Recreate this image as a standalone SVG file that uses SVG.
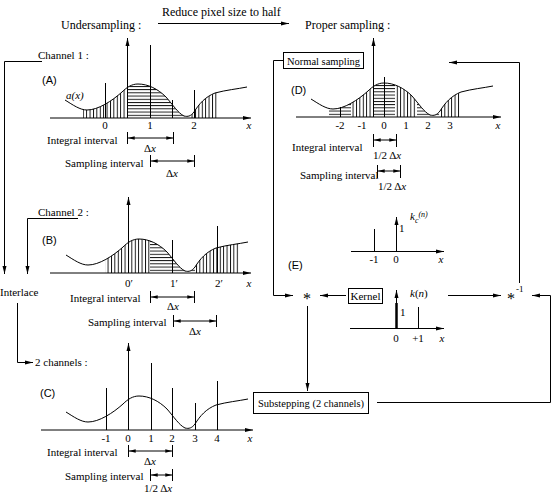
<svg xmlns="http://www.w3.org/2000/svg" width="553" height="495" viewBox="0 0 553 495">
<style>
.t{font-family:"Liberation Serif",serif;font-size:11px;fill:#000}
.big{font-size:12px}
.s{font-family:"Liberation Sans",sans-serif;font-size:11px;fill:#000}
.i{font-style:italic}
.m{text-anchor:middle}
.ln{stroke:#000;stroke-width:1;fill:none}
.ar{marker-end:url(#ah)}
.br{stroke:#000;stroke-width:1;fill:none;marker-start:url(#sh);marker-end:url(#sh)}
.box{fill:#fff;stroke:#000;stroke-width:1}
.cv{fill:none;stroke:#000;stroke-width:1}
</style>
<defs>
<marker id="ah" viewBox="0 0 10 6" refX="10" refY="3" markerWidth="8" markerHeight="5" orient="auto-start-reverse" markerUnits="userSpaceOnUse"><path d="M0,0.5 L10,3 L0,5.5 z" fill="#000"/></marker>
<marker id="sh" viewBox="0 0 10 6" refX="10" refY="3" markerWidth="7" markerHeight="4" orient="auto-start-reverse" markerUnits="userSpaceOnUse"><path d="M0,0.5 L10,3 L0,5.5 z" fill="#000"/></marker>
<path id="curve" d="M-62,-18 C-54,-13 -47,-8 -40,-8 C-29,-8 -15,-17 -5,-26 C0,-31 5,-34 11,-34 C21,-34 31,-29 39,-21 C46,-13 51,-5 57,-2 C61,-1 64,-2 67,-6 C72,-14 78,-21 88,-25 C99,-28 110,-29 120,-31"/>
<clipPath id="under" clipPathUnits="userSpaceOnUse"><path d="M-62,-18 C-54,-13 -47,-8 -40,-8 C-29,-8 -15,-17 -5,-26 C0,-31 5,-34 11,-34 C21,-34 31,-29 39,-21 C46,-13 51,-5 57,-2 C61,-1 64,-2 67,-6 C72,-14 78,-21 88,-25 C99,-28 110,-29 120,-31 L120,0 L-62,0 Z"/></clipPath>
<pattern id="vh" patternUnits="userSpaceOnUse" width="3.4" height="4"><rect x="0" y="0" width="0.9" height="4" fill="#000"/></pattern>
<pattern id="hh" patternUnits="userSpaceOnUse" width="4" height="3.2"><rect x="0" y="0" width="4" height="0.9" fill="#000"/></pattern>
</defs>

<g id="title">
<text class="t big" x="162" y="16">Reduce pixel size to half</text>
<text class="t big" x="61" y="29">Undersampling :</text>
<text class="t big" x="305" y="29">Proper sampling :</text>
</g>

<g id="panelA">
<text class="t" x="38" y="59">Channel 1 :</text>
<text class="s" x="42" y="84">(A)</text>
<text class="t i" x="66" y="99">a(x)</text>
<g transform="translate(127,118)">
<g clip-path="url(#under)">
<rect x="-44" y="-40" width="44" height="40" fill="url(#vh)"/>
<rect x="0" y="-40" width="45" height="40" fill="url(#hh)"/>
<rect x="45" y="-40" width="18" height="40" fill="url(#hh)"/>
<rect x="63" y="-40" width="28" height="40" fill="url(#vh)"/>
</g>
<use href="#curve" class="cv"/>
</g>
<line class="ln ar" x1="50" y1="118" x2="251" y2="118"/>
<line class="ln ar" x1="127.5" y1="118" x2="127.5" y2="38"/>
<line class="ln" x1="105.5" y1="118" x2="105.5" y2="83"/>
<line class="ln" x1="150.5" y1="118" x2="150.5" y2="45"/>
<line class="ln" x1="194.5" y1="118" x2="194.5" y2="90"/>
<line class="ln" x1="172.5" y1="118" x2="172.5" y2="100"/>
<text class="t m" x="105" y="129">0</text>
<text class="t m" x="150" y="129">1</text>
<text class="t m" x="194" y="129">2</text>
<text class="t i m" x="249" y="129">x</text>
<text class="t" x="47" y="144">Integral interval</text>
<line class="ln" x1="127.5" y1="132" x2="127.5" y2="144"/>
<line class="ln" x1="173.5" y1="132" x2="173.5" y2="144"/>
<line class="br" x1="128" y1="138" x2="173" y2="138"/>
<text class="t m" x="150" y="152">Δ<tspan class="i">x</tspan></text>
<text class="t" x="65" y="167">Sampling interval</text>
<line class="ln" x1="150.5" y1="155" x2="150.5" y2="167"/>
<line class="ln" x1="194.5" y1="155" x2="194.5" y2="167"/>
<line class="br" x1="151" y1="161" x2="194" y2="161"/>
<text class="t m" x="172" y="177">Δ<tspan class="i">x</tspan></text>
</g>

<g id="panelB">
<text class="t" x="38" y="216">Channel 2 :</text>
<text class="s" x="42" y="244">(B)</text>
<g transform="translate(128,273)">
<g clip-path="url(#under)">
<rect x="-23" y="-40" width="45" height="40" fill="url(#vh)"/>
<rect x="22" y="-40" width="45" height="40" fill="url(#hh)"/>
<rect x="67" y="-40" width="45" height="40" fill="url(#vh)"/>
</g>
<use href="#curve" class="cv"/>
</g>
<line class="ln ar" x1="50" y1="273" x2="251" y2="273"/>
<line class="ln ar" x1="128.5" y1="273" x2="128.5" y2="197"/>
<line class="ln" x1="172.5" y1="273" x2="172.5" y2="240"/>
<line class="ln" x1="217.5" y1="273" x2="217.5" y2="226"/>
<text class="t m" x="129" y="287">0′</text>
<text class="t m" x="174" y="287">1′</text>
<text class="t m" x="219" y="287">2′</text>
<text class="t i m" x="249" y="287">x</text>
<text class="t" x="70" y="302">Integral interval</text>
<line class="ln" x1="150.5" y1="291" x2="150.5" y2="303"/>
<line class="ln" x1="194.5" y1="291" x2="194.5" y2="303"/>
<line class="br" x1="151" y1="297" x2="194" y2="297"/>
<text class="t m" x="173" y="310">Δ<tspan class="i">x</tspan></text>
<text class="t" x="88" y="326">Sampling interval</text>
<line class="ln" x1="173.5" y1="315" x2="173.5" y2="327"/>
<line class="ln" x1="216.5" y1="315" x2="216.5" y2="327"/>
<line class="br" x1="174" y1="321" x2="216" y2="321"/>
<text class="t m" x="195" y="335">Δ<tspan class="i">x</tspan></text>
</g>

<g id="interlace">
<text class="t" x="0" y="296">Interlace</text>
<text class="t" x="35" y="366">2  channels :</text>
</g>

<g id="panelC">
<text class="s" x="40" y="397">(C)</text>
<g transform="translate(128,430)">
<use href="#curve" class="cv"/>
</g>
<line class="ln ar" x1="41" y1="430" x2="253" y2="430"/>
<line class="ln ar" x1="128.5" y1="430" x2="128.5" y2="343"/>
<line class="ln" x1="106.5" y1="430" x2="106.5" y2="388"/>
<line class="ln" x1="151.5" y1="430" x2="151.5" y2="363"/>
<line class="ln" x1="172.5" y1="430" x2="172.5" y2="388"/>
<line class="ln" x1="195.5" y1="430" x2="195.5" y2="403"/>
<line class="ln" x1="217.5" y1="430" x2="217.5" y2="381"/>
<text class="t m" x="106" y="442">-1</text>
<text class="t m" x="128" y="442">0</text>
<text class="t m" x="151" y="442">1</text>
<text class="t m" x="172" y="442">2</text>
<text class="t m" x="195" y="442">3</text>
<text class="t m" x="217" y="442">4</text>
<text class="t i m" x="250" y="442">x</text>
<text class="t" x="47" y="456">Integral interval</text>
<line class="ln" x1="128.5" y1="445" x2="128.5" y2="457"/>
<line class="ln" x1="172.5" y1="445" x2="172.5" y2="457"/>
<line class="br" x1="129" y1="451" x2="172" y2="451"/>
<text class="t m" x="150" y="465">Δ<tspan class="i">x</tspan></text>
<text class="t" x="65" y="480">Sampling interval</text>
<line class="ln" x1="150.5" y1="469" x2="150.5" y2="481"/>
<line class="ln" x1="172.5" y1="469" x2="172.5" y2="481"/>
<line class="br" x1="151" y1="475" x2="172" y2="475"/>
<text class="t" x="144" y="492">1/2 Δ<tspan class="i">x</tspan></text>
</g>

<g id="panelD">
<text class="s" x="291" y="94">(D)</text>
<g transform="translate(373,117)">
<g clip-path="url(#under)">
<rect x="-44" y="-40" width="22" height="40" fill="url(#hh)"/>
<rect x="-22" y="-40" width="22" height="40" fill="url(#vh)"/>
<rect x="0" y="-40" width="22" height="40" fill="url(#hh)"/>
<rect x="22" y="-40" width="22" height="40" fill="url(#vh)"/>
<rect x="44" y="-40" width="22" height="40" fill="url(#hh)"/>
<rect x="66" y="-40" width="22" height="40" fill="url(#vh)"/>
</g>
<use href="#curve" class="cv"/>
</g>
<line class="ln ar" x1="296" y1="117" x2="501" y2="117"/>
<line class="ln ar" x1="373.5" y1="117" x2="373.5" y2="38"/>
<line class="ln" x1="340.5" y1="117" x2="340.5" y2="107"/>
<line class="ln" x1="384.5" y1="117" x2="384.5" y2="77"/>
<text class="t m" x="340" y="129">-2</text>
<text class="t m" x="362" y="129">-1</text>
<text class="t m" x="384" y="129">0</text>
<text class="t m" x="406" y="129">1</text>
<text class="t m" x="428" y="129">2</text>
<text class="t m" x="450" y="129">3</text>
<text class="t i m" x="498" y="129">x</text>
<text class="t" x="292" y="151">Integral interval</text>
<line class="ln" x1="373.5" y1="134" x2="373.5" y2="147"/>
<line class="ln" x1="396.5" y1="134" x2="396.5" y2="147"/>
<line class="br" x1="374" y1="140" x2="396" y2="140"/>
<text class="t" x="373" y="159">1/2 Δ<tspan class="i">x</tspan></text>
<text class="t" x="300" y="179">Sampling interval</text>
<line class="ln" x1="377.5" y1="165" x2="377.5" y2="178"/>
<line class="ln" x1="400.5" y1="165" x2="400.5" y2="178"/>
<line class="br" x1="378" y1="171" x2="400" y2="171"/>
<text class="t" x="378" y="190">1/2 Δ<tspan class="i">x</tspan></text>
</g>

<g id="normal-sampling">
<rect class="box" x="283.5" y="52.5" width="80" height="16"/>
<text class="t m" x="323.5" y="64.5" style="font-size:10.5px">Normal sampling</text>
</g>

<g id="panelE">
<text class="s" x="288" y="269">(E)</text>
<line class="ln ar" x1="351" y1="251.5" x2="444" y2="251.5"/>
<line class="ln ar" x1="396.5" y1="251" x2="396.5" y2="217"/>
<line class="ln" x1="374.5" y1="251" x2="374.5" y2="229"/>
<text class="t" x="399" y="232">1</text>
<text class="t i" x="410" y="220">k<tspan style="font-size:8px" dy="3">c</tspan><tspan style="font-size:8px" dy="-6">(n)</tspan></text>
<text class="t m" x="374" y="263">-1</text>
<text class="t m" x="396" y="263">0</text>
<text class="t i m" x="441" y="263">x</text>
<line class="ln ar" x1="350" y1="328.5" x2="444" y2="328.5"/>
<line class="ln ar" x1="396.5" y1="328" x2="396.5" y2="290"/>
<line x1="396.5" y1="328" x2="396.5" y2="303" stroke="#000" stroke-width="2.5"/>
<line class="ln" x1="418.5" y1="328" x2="418.5" y2="307"/>
<text class="t" x="400" y="316">1</text>
<text class="t i" x="410" y="297">k<tspan style="font-style:normal">(</tspan>n<tspan style="font-style:normal">)</tspan></text>
<text class="t m" x="396" y="342">0</text>
<text class="t m" x="418" y="342">+1</text>
<text class="t i m" x="442" y="342">x</text>
</g>

<g id="kernel">
<rect class="box" x="348.5" y="288.5" width="34" height="15"/>
<text class="t m" x="365.5" y="300">Kernel</text>
</g>

<g id="conv">
<text class="t m" x="307" y="304" style="font-size:16px">*</text>
</g>

<g id="deconv">
<text class="t" x="507" y="304" style="font-size:16px">*</text>
<text class="t" x="516" y="292" style="font-size:9px">-1</text>
</g>

<g id="substepping">
<rect class="box" x="253.5" y="392.5" width="115" height="21"/>
<text class="t m" x="311" y="407" style="font-size:10.5px">Substepping (2 channels)</text>
</g>

<g id="connectors" class="ln">
<line class="ar" x1="158" y1="23.5" x2="289" y2="23.5"/>
<polyline class="ar" points="42,61.5 4.5,61.5 4.5,274"/>
<polyline class="ar" points="78,218.5 27.5,218.5 27.5,274"/>
<polyline class="ar" points="17.5,303 17.5,362.5 33,362.5"/>
<polyline class="ar" points="283,60.5 273.5,60.5 273.5,295.5 293,295.5"/>
<line class="ar" x1="346" y1="295.5" x2="320" y2="295.5"/>
<line class="ar" x1="307.5" y1="306" x2="307.5" y2="391"/>
<polyline class="ar" points="377,402.5 550.5,402.5 550.5,295.5 532,295.5"/>
<line class="ar" x1="448" y1="295.5" x2="501" y2="295.5"/>
<polyline class="ar" points="519.5,283 519.5,62.5 449,62.5"/>
</g>
</svg>
